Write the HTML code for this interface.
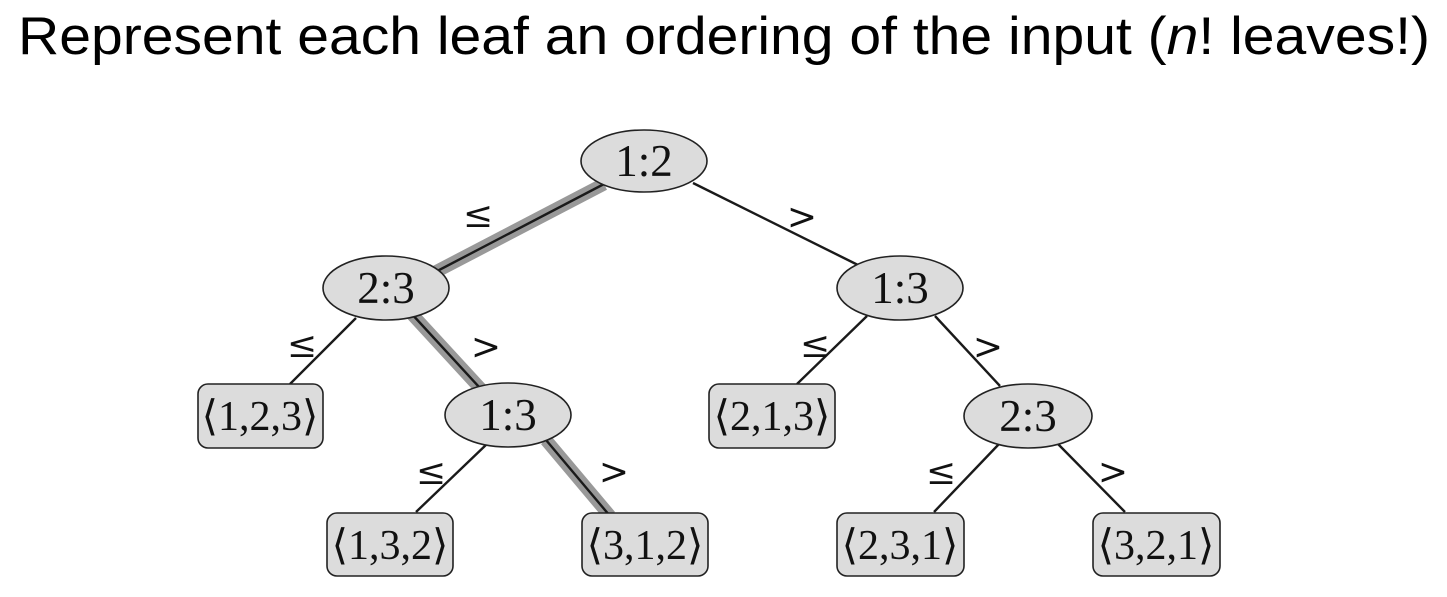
<!DOCTYPE html>
<html><head><meta charset="utf-8"><style>
html,body{margin:0;padding:0;background:#fff;width:1447px;height:597px;overflow:hidden}
</style></head><body>
<svg width="1447" height="597" xmlns="http://www.w3.org/2000/svg">
<text x="18" y="54" font-family="Liberation Sans, sans-serif" font-size="53" fill="#000" textLength="1412" lengthAdjust="spacingAndGlyphs">Represent each leaf an ordering of the input (<tspan font-style="italic">n</tspan>! leaves!)</text>
<g stroke="#999" stroke-width="13" stroke-linecap="butt">
<line x1="604" y1="184" x2="420" y2="280"/>
<line x1="410" y1="312" x2="491" y2="400"/>
<line x1="546" y1="440" x2="610" y2="516"/>
</g>
<g stroke="#1a1a1a" stroke-width="2.4" fill="none">
<line x1="604" y1="184" x2="420" y2="280"/>
<line x1="410" y1="312" x2="491" y2="400"/>
<line x1="546" y1="440" x2="610" y2="516"/>
<line x1="693" y1="183" x2="862" y2="267"/>
<line x1="356" y1="318" x2="290" y2="384"/>
<line x1="867" y1="316" x2="797" y2="384"/>
<line x1="935" y1="316" x2="1000" y2="386"/>
<line x1="488" y1="443" x2="416" y2="512"/>
<line x1="999" y1="444" x2="934" y2="512"/>
<line x1="1058" y1="444" x2="1125" y2="512"/>
</g>
<g fill="#dcdcdc" stroke="#222" stroke-width="1.6">
<ellipse cx="644" cy="161" rx="63" ry="31"/>
<ellipse cx="386" cy="288" rx="63" ry="32"/>
<ellipse cx="900" cy="288" rx="63" ry="32"/>
<ellipse cx="508" cy="415" rx="63" ry="32"/>
<ellipse cx="1028" cy="416" rx="64" ry="32"/>
<rect x="198" y="384" width="125" height="64" rx="10"/>
<rect x="709" y="384" width="126" height="64" rx="10"/>
<rect x="327" y="513" width="126" height="63" rx="10"/>
<rect x="582" y="513" width="126" height="63" rx="10"/>
<rect x="837" y="513" width="127" height="63" rx="10"/>
<rect x="1093" y="513" width="127" height="63" rx="10"/>
</g>
<g font-family="Liberation Serif, serif" font-size="45" fill="#111" text-anchor="middle">
<text x="644" y="176">1:2</text>
<text x="386" y="303">2:3</text>
<text x="900" y="303">1:3</text>
<text x="508" y="430">1:3</text>
<text x="1028" y="431">2:3</text>
</g>
<g font-family="Liberation Serif, serif" font-size="42" fill="#111" text-anchor="middle">
<text x="260" y="430">⟨1,2,3⟩</text>
<text x="772" y="430">⟨2,1,3⟩</text>
<text x="390" y="559">⟨1,3,2⟩</text>
<text x="645" y="559">⟨3,1,2⟩</text>
<text x="900" y="559">⟨2,3,1⟩</text>
<text x="1156" y="559">⟨3,2,1⟩</text>
</g>
<g font-family="DejaVu Serif, serif" font-size="36" fill="#111" text-anchor="middle">
<text x="478" y="227">≤</text>
<text x="802" y="229">&gt;</text>
<text x="302" y="357">≤</text>
<text x="486" y="359">&gt;</text>
<text x="815" y="357">≤</text>
<text x="988" y="359">&gt;</text>
<text x="431" y="484">≤</text>
<text x="614" y="484">&gt;</text>
<text x="941" y="484">≤</text>
<text x="1113" y="484">&gt;</text>
</g>
</svg>
</body></html>
